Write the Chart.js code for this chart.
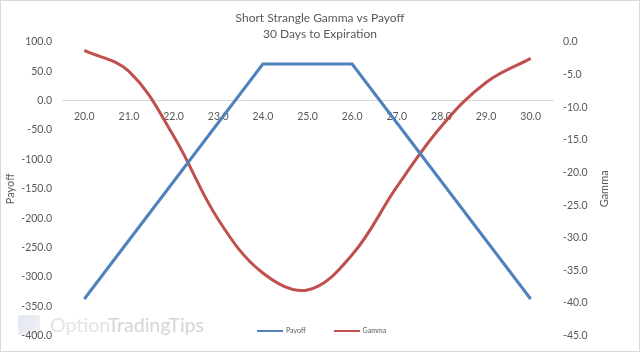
<!DOCTYPE html>
<html>
<head>
<meta charset="utf-8">
<script src="https://cdn.jsdelivr.net/npm/chart.js@4"></script>
<style>
  body { margin: 0; background: #fff; }
  #wrap { position: relative; width: 640px; height: 352px; font-family: Lato, sans-serif; }
  #chart { position: absolute; left: 0; top: 0; }
  #frame { position: absolute; left: 0; top: 0; right: 0; bottom: 0; border: 1px solid #d9d9d9; pointer-events: none; }
  #mark { position: absolute; left: 18px; top: 313px; font-size: 19.5px; line-height: 23.4px; white-space: nowrap; }
  #mark .icon { display: inline-block; width: 22px; height: 20px; margin-right: 10px; vertical-align: -3px;
    border-radius: 2px; background: linear-gradient(135deg, #e2e6ef, #f2f3f7); }
  #mark .a { color: #e4e4e4; }
  #mark .b { color: #d6d6d6; }
  #legend { position: absolute; top: 326px; left: 257px; font-size: 7px; color: #595959; white-space: nowrap; }
  #legend span.item { display: inline-block; margin-right: 28px; }
  #legend i { display: inline-block; width: 26px; height: 2px; vertical-align: middle; margin-right: 3px; }
</style>
</head>
<body>
<div id="wrap">
  <div id="mark"><span class="icon"></span><span class="a">Option</span><span class="b">TradingTips</span></div>
  <canvas id="chart" width="640" height="352"></canvas>
  <div id="legend">
    <span class="item"><i style="background:#4f81bd"></i>Payoff</span><span class="item"><i style="background:#c0504d"></i>Gamma</span>
  </div>
  <div id="frame"></div>
</div>
<script>
const prices = ['20.0', '21.0', '22.0', '23.0', '24.0', '25.0', '26.0', '27.0', '28.0', '29.0', '30.0'];
const payoff = [-337.5, -237.5, -137.5, -37.5, 62.5, 62.5, 62.5, -37.5, -137.5, -237.5, -337.5];
const gamma = [-1.3, -4.5, -14.4, -27.2, -35.4, -38.0, -32.6, -22.2, -12.9, -6.2, -2.5];

const textColor = '#595959';
const tickFont = { family: 'Lato', size: 10.5 };

// right axis title, drawn reading bottom-to-top like the left one
const rightTitle = {
  id: 'rightTitle',
  afterDraw(chart) {
    const s = chart.scales.y1;
    const ctx = chart.ctx;
    ctx.save();
    ctx.translate(s.right - 36, (s.top + s.bottom) / 2);
    ctx.rotate(-Math.PI / 2);
    ctx.font = '11px Lato';
    ctx.fillStyle = textColor;
    ctx.textAlign = 'center';
    ctx.textBaseline = 'middle';
    ctx.fillText('Gamma', 0, 0);
    ctx.restore();
  },
};

new Chart(document.getElementById('chart'), {
  type: 'line',
  data: {
    labels: prices,
    datasets: [
      {
        label: 'Payoff',
        data: payoff,
        yAxisID: 'y',
        borderColor: '#4f81bd',
        borderWidth: 3,
        pointRadius: 0,
        tension: 0,
      },
      {
        label: 'Gamma',
        data: gamma,
        yAxisID: 'y1',
        borderColor: '#c0504d',
        borderWidth: 3,
        pointRadius: 0,
        tension: 0.38,
      },
    ],
  },
  options: {
    responsive: false,
    animation: false,
    layout: { padding: { left: 0, right: 0, top: 0, bottom: 16 } },
    plugins: {
      legend: { display: false },
      tooltip: { enabled: false },
      title: {
        display: true,
        text: ['Short Strangle Gamma vs Payoff', '30 Days to Expiration'],
        color: textColor,
        font: { family: 'Lato', size: 12, weight: 'normal', lineHeight: 1.333 },
        padding: { top: 10, bottom: 0 },
      },
    },
    scales: {
      x: {
        type: 'category',
        offset: true,
        position: { y: 0 },
        grid: { display: false, drawTicks: false },
        border: { display: true, color: '#d9d9d9', width: 1 },
        ticks: { color: textColor, font: tickFont, padding: 10, maxRotation: 0 },
      },
      y: {
        position: 'left',
        min: -400,
        max: 100,
        grid: { display: false, drawTicks: false },
        border: { display: false },
        ticks: { stepSize: 50, color: textColor, font: tickFont, padding: 10,
          callback: (v) => v.toFixed(1) },
        title: { display: true, text: 'Payoff', color: textColor,
          font: { family: 'Lato', size: 11 }, padding: { top: 4, bottom: 0 } },
        afterFit: (scale) => { scale.width = 62; },
      },
      y1: {
        position: 'right',
        min: -45,
        max: 0,
        grid: { display: false, drawTicks: false },
        border: { display: false },
        ticks: { stepSize: 5, color: textColor, font: tickFont, padding: 10,
          callback: (v) => v.toFixed(1) },
        afterFit: (scale) => { scale.width = 87; },
      },
    },
  },
  plugins: [rightTitle],
});
</script>
</body>
</html>
